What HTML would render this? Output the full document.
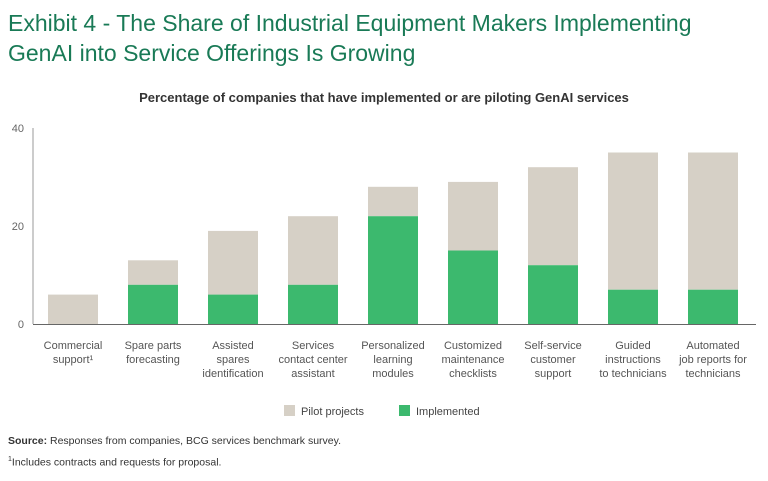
<!DOCTYPE html>
<html><head><meta charset="utf-8"><style>
body{margin:0;width:768px;height:481px;background:#fff;font-family:"Liberation Sans",sans-serif;overflow:hidden;position:relative}
.t{position:absolute;left:8px;top:8px;font-size:23px;line-height:30px;color:#197a56}
.note{position:absolute;left:8px;font-size:10.5px;color:#333}
</style></head><body>
<div class="t">Exhibit 4 - The Share of Industrial Equipment Makers Implementing<br>GenAI into Service Offerings Is Growing</div>
<svg id="c" width="768" height="481" style="position:absolute;left:0;top:0"></svg>
<div class="note" style="top:435px"><b>Source:</b> Responses from companies, BCG services benchmark survey.</div>
<div class="note" style="top:456px"><sup style="font-size:7px">1</sup>Includes contracts and requests for proposal.</div>
<script>
const categories=[["Commercial","support¹"],["Spare parts","forecasting"],["Assisted","spares","identification"],["Services","contact center","assistant"],["Personalized","learning","modules"],["Customized","maintenance","checklists"],["Self-service","customer","support"],["Guided","instructions","to technicians"],["Automated","job reports for","technicians"]];
const implemented=[0,8,6,8,22,15,12,7,7];
const pilot=[6,5,13,14,6,14,20,28,28];
const ticks=[0,20,40];
const NS="http://www.w3.org/2000/svg";
const svg=document.getElementById('c');
function y(v){return 324-v*4.9;}
function x(i){return 48+i*80;}
function mk(t,a,txt){const e=document.createElementNS(NS,t);for(const k in a)e.setAttribute(k,a[k]);if(txt!=null)e.textContent=txt;svg.appendChild(e);return e;}
let e=mk('text',{x:384,y:102,'text-anchor':'middle','font-size':13,'font-weight':'bold',fill:'#333'},'Percentage of companies that have implemented or are piloting GenAI services');


ticks.forEach(t=>{const l=mk('text',{x:24,y:y(t)+4,'text-anchor':'end','font-size':11,fill:'#666'},t);

});
categories.forEach((c,i)=>{
 const r1=mk('rect',{x:x(i),y:y(implemented[i]+pilot[i]),width:50,height:pilot[i]*4.9,fill:'#d6d0c6'});
 
 
 const r2=mk('rect',{x:x(i),y:y(implemented[i]),width:50,height:implemented[i]*4.9,fill:'#3cb96e'});
 
 
 c.forEach((s,j)=>{const t=mk('text',{x:x(i)+25,y:349+j*14,'text-anchor':'middle','font-size':11,fill:'#555'},s);
 
 });
});
let ax=mk('line',{x1:33,y1:128,x2:33,y2:324,stroke:'#999','stroke-width':1});


let bx=mk('line',{x1:33,y1:324.5,x2:756,y2:324.5,stroke:'#666','stroke-width':1});


[[284,'#d6d0c6','Pilot projects'],[399,'#3cb96e','Implemented']].forEach((L,k)=>{
 const r=mk('rect',{x:L[0],y:405,width:11,height:11,fill:L[1]});
 
 
 const t=mk('text',{x:L[0]+17,y:415,'font-size':11,fill:'#444'},L[2]);
 
 
});
</script>
</body></html>
